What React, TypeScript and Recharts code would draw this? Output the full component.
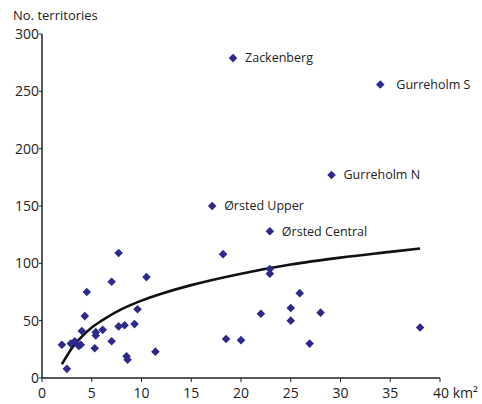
import { ScatterChart, Scatter, XAxis, YAxis } from 'recharts';

// km² of each site (unlabelled sites)
const areas = [
  2.0, 2.5, 2.9, 3.3, 3.7, 3.9, 4.0, 4.3, 4.5, 5.3, 5.4, 5.4, 6.1, 7.0, 7.0, 7.7, 7.7, 8.3,
  8.5, 8.6, 9.3, 9.6, 10.5, 11.4, 18.2, 18.5, 20.0, 22.0, 22.9, 22.9, 25.0, 25.0, 25.9, 26.9,
  28.0, 38.0,
];
const territories = [
  29, 8, 30, 32, 28, 29, 41, 54, 75, 26, 40, 37, 42, 84, 32, 109, 45, 46,
  19, 16, 47, 60, 88, 23, 108, 34, 33, 56, 95, 91, 61, 50, 74, 30,
  57, 44,
];

// named sites
const siteNames = ['Zackenberg', 'Gurreholm S', 'Gurreholm N', 'Ørsted Upper', 'Ørsted Central'];
const siteAreas = [19.2, 34.0, 29.1, 17.1, 22.9];
const siteTerritories = [279, 256, 177, 150, 128];

// fitted curve
const fitAreas = [2, 3, 4, 5, 6, 8, 10, 12, 15, 20, 25, 30, 35, 38];
const fitTerritories = [12, 26, 36, 44, 50, 60, 67.5, 73.5, 81, 91, 99, 105, 110, 113];

const xTicks = [0, 5, 10, 15, 20, 25, 30, 35, 40];
const yTicks = [0, 50, 100, 150, 200, 250, 300];

const FONT = '"Open Sans", sans-serif';
const MARK = '#2d2a8c';
const INK = '#222';

const points = areas.map((x, i) => ({ x, y: territories[i] }));
const sites = siteNames.map((name, i) => ({ name, x: siteAreas[i], y: siteTerritories[i] }));
const fit = fitAreas.map((x, i) => ({ x, y: fitTerritories[i] }));

function Diamond(props: any) {
  const { cx, cy } = props;
  const r = 4.3;
  return <polygon points={`${cx},${cy - r} ${cx + r},${cy} ${cx},${cy + r} ${cx - r},${cy}`} fill={MARK} />;
}

function SiteMark(props: any) {
  const { cx, cy, payload } = props;
  const gap = payload.name === 'Gurreholm S' ? 16 : 12;
  return (
    <g>
      <Diamond cx={cx} cy={cy} />
      <text x={cx + gap} y={cy} dy="0.35em" fontSize={12.5} fontFamily={FONT} fill={INK}>
        {payload.name}
      </text>
    </g>
  );
}

function XTick(props: any) {
  const { x, y, payload } = props;
  if (payload.value === 40) {
    return (
      <text x={x - 7} y={y} dy="0.71em" textAnchor="start" fontSize={14} fontFamily={FONT} fill={INK}>
        40 km²
      </text>
    );
  }
  return (
    <text x={x} y={y} dy="0.71em" textAnchor="middle" fontSize={14} fontFamily={FONT} fill={INK}>
      {payload.value}
    </text>
  );
}

export default function App() {
  return (
    <div style={{ position: 'absolute', left: 0, top: 0, width: 482, height: 404, background: '#fff' }}>
      <ScatterChart width={482} height={404} margin={{ top: 34, right: 42, bottom: 0, left: 0 }}>
        <XAxis
          type="number"
          dataKey="x"
          domain={[0, 40]}
          ticks={xTicks}
          height={26}
          tickSize={4}
          tickMargin={6}
          axisLine={{ stroke: INK, strokeWidth: 1.5 }}
          tickLine={{ stroke: INK }}
          tick={<XTick />}
        />
        <YAxis
          type="number"
          dataKey="y"
          domain={[0, 300]}
          ticks={yTicks}
          width={42}
          tickSize={3}
          tickMargin={0}
          axisLine={{ stroke: INK, strokeWidth: 1.5 }}
          tickLine={{ stroke: INK }}
          tick={{ fontSize: 14, fontFamily: FONT, fill: INK }}
        />
        <Scatter
          data={fit}
          line={{ stroke: '#111', strokeWidth: 2.6 }}
          lineJointType="monotoneX"
          shape={() => <g />}
          isAnimationActive={false}
        />
        <Scatter data={points} shape={<Diamond />} isAnimationActive={false} />
        <Scatter data={sites} shape={<SiteMark />} isAnimationActive={false} />
      </ScatterChart>
      <div
        style={{
          position: 'absolute',
          left: 13,
          top: 5,
          fontFamily: FONT,
          fontSize: 13,
          color: INK,
          lineHeight: '20px',
        }}
      >
        No. territories
      </div>
    </div>
  );
}
